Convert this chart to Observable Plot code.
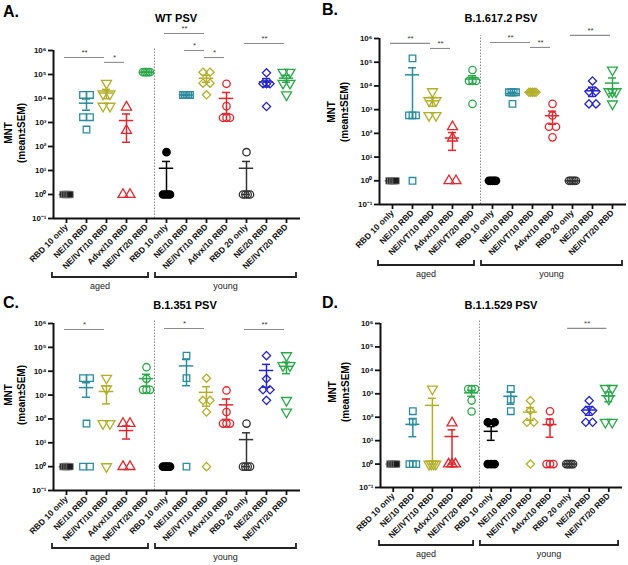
<!DOCTYPE html>
<html><head><meta charset="utf-8">
<script src="https://cdn.jsdelivr.net/npm/d3@7"></script>
<script src="https://cdn.jsdelivr.net/npm/@observablehq/plot@0.6"></script>
<style>
body{margin:0;background:#fff;}
#root{position:relative;width:628px;height:565px;overflow:hidden;background:#fff;font-family:"Liberation Sans",Arial,sans-serif;}
.lbl{position:absolute;white-space:pre;color:#000;line-height:1;}
.pnl{position:absolute;}
</style></head><body><div id="root"></div>
<script>
// ---------------- data ----------------
const panelLetters = ["A.", "B.", "C.", "D."];
const panelTitles = ["WT PSV", "B.1.617.2 PSV", "B.1.351 PSV", "B.1.1.529 PSV"];
const agedGroups = ["RBD 10 only", "NE/10 RBD", "NE/IVT/10 RBD", "Advx/10 RBD", "NE/IVT/20 RBD"];
const youngGroups = ["RBD 10 only", "NE/10 RBD", "NE/IVT/10 RBD", "Advx/10 RBD", "RBD 20 only", "NE/20 RBD", "NE/IVT/20 RBD"];
const cohortLabels = ["aged", "young"];
const yTicks = [0.1, 1, 10, 100, 1e3, 1e4, 1e5, 1e6];
const yLabel = "MNT\n(mean±SEM)";

// individual MNT values per group (aged 0-4, young 5-11)
const wtValues = [
  [1, 1, 1, 1, 1],
  [14000, 14000, 1660, 1660, 510],
  [43600, 15600, 15600, 4800, 4800],
  [4360, 464, 1, 1],
  [125000, 125000, 125000, 125000, 125000],
  [58, 1, 1, 1, 1],
  [14000, 14000, 14000, 14000, 14000],
  [125000, 125000, 43600, 43600, 14200],
  [41000, 4800, 1570, 1570, 1570],
  [58, 1, 1, 1, 1],
  [117000, 41000, 41000, 41000, 4650],
  [125000, 125000, 43600, 43600, 14200]
];
const deltaValues = [
  [1, 1, 1, 1, 1],
  [145000, 570, 570, 570, 1],
  [5760, 2400, 2400, 570, 570],
  [190, 63, 1, 1],
  [47000, 16200, 16200, 16200, 1750],
  [1, 1, 1, 1, 1],
  [5400, 5400, 5400, 5400, 1750],
  [5400, 5400, 5400, 5400, 5400],
  [1750, 570, 190, 190, 68],
  [1, 1, 1, 1, 1],
  [16200, 5760, 5760, 1750, 1750],
  [47000, 5760, 5760, 5760, 1750]
];
const betaValues = [
  [1, 1, 1, 1, 1],
  [5100, 5100, 64, 1, 1],
  [5100, 1830, 64, 64, 1],
  [64, 64, 1, 1],
  [14700, 4800, 1660, 1660, 1660],
  [1, 1, 1, 1, 1],
  [45000, 5100, 1],
  [5100, 600, 600, 195, 1],
  [1560, 195, 64, 64, 64],
  [64, 1, 1, 1, 1],
  [45000, 4800, 1660, 1660, 600],
  [45000, 17200, 17200, 600, 195]
];
const omicronValues = [
  [1, 1, 1, 1, 1],
  [180, 65, 1, 1, 1],
  [1600, 1, 1, 1, 1],
  [57, 1, 1, 1],
  [1600, 1600, 1600, 515, 175],
  [61, 61, 1, 1, 1],
  [1600, 565, 180],
  [510, 192, 61, 61, 1],
  [180, 61, 1, 1, 1],
  [1, 1, 1, 1, 1],
  [510, 192, 192, 61, 61],
  [1700, 1700, 600, 61, 61]
];
// significance: [from group, to group, label, bar level]
const wtSig = [[0, 2, "**", 5.1e5], [2, 3, "*", 3.2e5], [5, 7, "**", 5.1e6], [6, 7, "*", 1e6], [7, 8, "*", 5.1e5], [9, 11, "**", 1.95e6]];
const deltaSig = [[0, 2, "**", 6.2e5], [2, 3, "**", 3.8e5], [5, 7, "**", 6.8e5], [7, 8, "**", 4.2e5], [9, 11, "**", 1.35e6]];
const betaSig = [[0, 2, "*", 5.6e5], [5, 7, "*", 6.2e5], [9, 11, "**", 5.6e5]];
const omicronSig = [[9, 11, "**", 6.2e5]];

// ---------------- styles ----------------
const teal = "#2b8c9e", olive = "#b3ae2a", red = "#e0262e", green = "#2ba84a", blue = "#2424c8";
const triangleDown = {
  draw(ctx, size) {
    const y = -Math.sqrt(size / (Math.sqrt(3) * 3));
    ctx.moveTo(0, -2 * y);
    ctx.lineTo(Math.sqrt(3) * y, y);
    ctx.lineTo(-Math.sqrt(3) * y, y);
    ctx.closePath();
  }
};
const groupSymbols = ["square", "square", triangleDown, "triangle", "circle", "circle", "square", "diamond2", "circle", "circle", "diamond2", triangleDown];
const groupStroke = ["#8a8a8a", teal, olive, red, green, "#000", teal, olive, red, "#333", blue, green];
const groupFill = ["#1c1c1c", "none", "none", "none", "none", "#000", "none", "none", "none", "none", "none", "none"];
const groupErr = ["#000", teal, olive, red, green, "#000", teal, olive, red, "#333", blue, green];

const layout = [
  {left: 0, top: 0, height: 292, mL: 53, mR: 14, mT: 50, mB: 74, br: 59,
   letter: [3, 18], title: [176, 22], ylab: [15, 133]},
  {left: 314, top: 0, height: 292, mL: 65, mR: 2, mT: 38, mB: 88, br: 61,
   letter: [322, 16], title: [501, 22], ylab: [338, 112]},
  {left: 0, top: 280, height: 285, mL: 53, mR: 14, mT: 43, mB: 75, br: 58,
   letter: [3, 309], title: [185, 309], ylab: [15, 395]},
  {left: 314, top: 280, height: 285, mL: 66, mR: 6, mT: 43, mB: 78, br: 58,
   letter: [322, 309], title: [501, 309], ylab: [339, 392]}
];
const panelValues = [wtValues, deltaValues, betaValues, omicronValues];
const panelSig = [wtSig, deltaSig, betaSig, omicronSig];
const allGroups = agedGroups.concat(youngGroups);
const xDomain = [-0.65, 11.7];
const cohortSpans = [[-0.7, 4.1], [4.45, 11.5]];
const divider = agedGroups.length - 0.6;

const supMap = {"-": "⁻", "0": "⁰", "1": "¹", "2": "²", "3": "³", "4": "⁴", "5": "⁵", "6": "⁶", "7": "⁷", "8": "⁸", "9": "⁹"};
const fmtPow = v => "10" + String(Math.round(Math.log10(v))).split("").map(c => supMap[c]).join("");

function buildPoints(values) {
  const pts = [];
  values.forEach((vals, g) => {
    const logs = vals.map(v => Math.log10(v));
    const used = vals.map(() => false);
    vals.forEach((v, i) => {
      if (used[i]) return;
      const members = [];
      vals.forEach((w, j) => {
        if (!used[j] && Math.abs(logs[i] - logs[j]) < 0.2) { used[j] = true; members.push(j); }
      });
      const n = members.length;
      members.forEach((j, k) => {
        const off = n > 1 ? (k - (n - 1) / 2) * 0.35 / (n - 1) : 0;
        pts.push({g, x: g + off, v: vals[j]});
      });
    });
  });
  return pts;
}
function buildStats(values) {
  return values.map((vals, g) => {
    const m = d3.mean(vals);
    const se = (d3.deviation(vals) || 0) / Math.sqrt(vals.length);
    const lo = m - se;
    return {g, mean: m, hi: m + se, lo: Math.max(lo, 0.1), clamped: lo < 0.1};
  });
}

const root = document.getElementById("root");
function addLabel(text, x, y, fs, opts = {}) {
  const d = document.createElement("div");
  d.className = "lbl";
  d.textContent = text;
  d.style.fontSize = fs + "px";
  d.style.fontWeight = opts.weight || "bold";
  if (opts.rotate) {
    d.style.lineHeight = opts.lh + "px";
    d.style.textAlign = "center";
    d.style.left = x + "px";
    d.style.top = y + "px";
    d.style.transform = "translate(-50%,-50%) rotate(-90deg)";
  } else {
    d.style.left = x + "px";
    d.style.top = (y - 0.85 * fs) + "px";
    if (opts.center) d.style.transform = "translateX(-50%)";
  }
  root.appendChild(d);
}

layout.forEach((L, p) => {
  const values = panelValues[p];
  const pts = buildPoints(values);
  const st = buildStats(values);
  const sig = panelSig[p];
  const marks = [
    Plot.ruleX([divider], {y1: 0.1, y2: 1.3e6, stroke: "#8a8a8a", strokeWidth: 1, strokeDasharray: "1.5,1.5"}),
    Plot.axisY({ticks: yTicks, tickFormat: fmtPow, tickSize: 5, tickPadding: 2, strokeWidth: 1.8, stroke: "#111", label: null, fontSize: 8}),
    Plot.axisX({ticks: d3.range(allGroups.length), tickFormat: i => allGroups[i], tickRotate: -45, tickSize: 5, tickPadding: 2, strokeWidth: 1.8, stroke: "#111", label: null, fontSize: 8.5}),
    Plot.ruleY([0.1], {stroke: "#111", strokeWidth: 2}),
    Plot.ruleX([xDomain[0]], {stroke: "#111", strokeWidth: 2}),
    Plot.ruleX(st, {x: "g", y1: "lo", y2: "hi", stroke: d => groupErr[d.g], strokeWidth: 1.5}),
    Plot.ruleY(st, {y: "mean", x1: d => d.g - 0.36, x2: d => d.g + 0.36, stroke: d => groupErr[d.g], strokeWidth: 1.5}),
    Plot.ruleY(st, {y: "hi", x1: d => d.g - 0.2, x2: d => d.g + 0.2, stroke: d => groupErr[d.g], strokeWidth: 1.5}),
    Plot.ruleY(st.filter(d => !d.clamped), {y: "lo", x1: d => d.g - 0.2, x2: d => d.g + 0.2, stroke: d => groupErr[d.g], strokeWidth: 1.5})
  ];
  allGroups.forEach((name, g) => {
    marks.push(Plot.dot(pts.filter(d => d.g === g), {
      x: "x", y: "v", symbol: groupSymbols[g], r: 3.7,
      stroke: groupStroke[g], fill: groupFill[g], strokeWidth: g === 0 ? 0.7 : 1.3
    }));
  });
  marks.push(
    Plot.ruleY(sig, {y: d => d[3], x1: d => d[0] - 0.1, x2: d => d[1] - 0.1, stroke: "#8c8c8c", strokeWidth: 1.1}),
    Plot.text(sig, {x: d => (d[0] + d[1]) / 2 - 0.1, y: d => d[3], text: d => d[2], dy: -5, fontSize: 8, fill: "#444", fontWeight: "normal"})
  );
  const chart = Plot.plot({
    width: 314, height: L.height,
    marginLeft: L.mL, marginRight: L.mR, marginTop: L.mT, marginBottom: L.mB,
    x: {type: "linear", domain: xDomain},
    y: {type: "log", domain: [0.1, 1e6]},
    color: {type: "identity"},
    style: {fontFamily: "'Liberation Sans', Arial, sans-serif", fontSize: "8px", fontWeight: "bold", overflow: "visible", background: "none", color: "#111"},
    marks
  });
  // cohort brackets below the axis, placed with the chart's own scales
  const sx = chart.scale("x"), sy = chart.scale("y");
  const yb = sy.apply(0.1) + L.br;
  const svg = d3.select(chart);
  cohortSpans.forEach(([a, b], k) => {
    const x1 = sx.apply(a), x2 = sx.apply(b);
    svg.append("path").attr("d", `M${x1},${yb - 5}V${yb}H${x2}V${yb - 5}`)
      .attr("fill", "none").attr("stroke", "#222").attr("stroke-width", 1.8);
    svg.append("text").attr("x", (x1 + x2) / 2).attr("y", yb + 12)
      .attr("text-anchor", "middle").attr("font-size", 9).attr("font-weight", "normal")
      .attr("fill", "#222").text(cohortLabels[k]);
  });
  const wrap = document.createElement("div");
  wrap.className = "pnl";
  wrap.style.left = L.left + "px";
  wrap.style.top = L.top + "px";
  wrap.appendChild(chart);
  root.appendChild(wrap);

  addLabel(panelLetters[p], L.letter[0], L.letter[1], 16);
  addLabel(panelTitles[p], L.title[0], L.title[1], 11, {center: true});
  addLabel(yLabel, L.ylab[0], L.ylab[1], 10, {rotate: true, lh: 13});
});
</script></body></html>
